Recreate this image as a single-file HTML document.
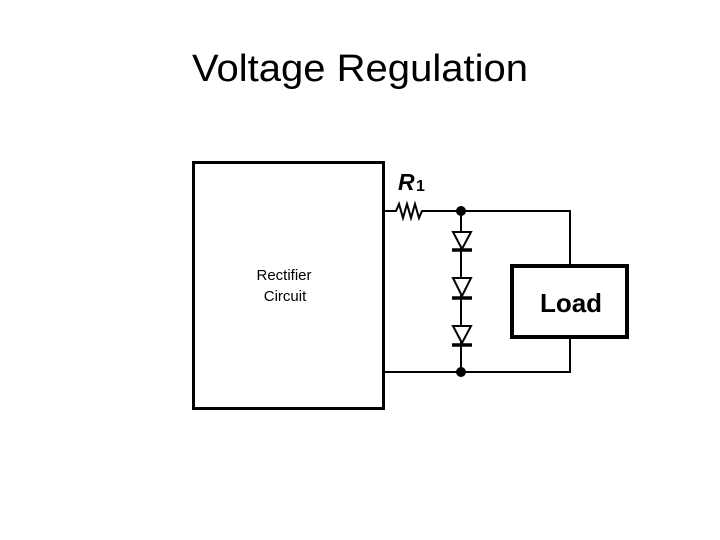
<!DOCTYPE html>
<html><head><style>
html,body{margin:0;padding:0;background:#fff;}
body{width:720px;height:540px;overflow:hidden;position:relative;}
</style></head><body>
<svg width="720" height="540" viewBox="0 0 720 540" xmlns="http://www.w3.org/2000/svg" style="position:absolute;left:0;top:0">
<text x="192" y="81" textLength="336" lengthAdjust="spacingAndGlyphs" font-family="Liberation Sans, sans-serif" font-size="38" fill="#000">Voltage Regulation</text>
<rect x="193.5" y="162.5" width="190" height="246" fill="none" stroke="#000" stroke-width="3"/>
<text x="284" y="280" text-anchor="middle" font-family="Liberation Sans, sans-serif" font-size="15">Rectifier</text>
<text x="285" y="301" text-anchor="middle" font-family="Liberation Sans, sans-serif" font-size="15">Circuit</text>
<text x="398" y="190" font-family="Liberation Sans, sans-serif" font-size="23" font-weight="bold" font-style="italic">R</text>
<text x="416" y="191" font-family="Liberation Sans, sans-serif" font-size="16" font-weight="bold">1</text>
<g stroke="#000" stroke-width="2" fill="none">
<polyline points="385,211 396,211 399,204 403,218 407,204 411,218 415,204 419,218 422,211 461,211 570,211 570,265"/>
<polyline points="385,372 570,372 570,337"/>
<line x1="461" y1="211" x2="461" y2="372"/>
<polygon points="453,232 471,232 462,249" fill="#fff"/>
<polygon points="453,278 471,278 462,296" fill="#fff"/>
<polygon points="453,326 471,326 462,343" fill="#fff"/>
</g>
<g stroke="#000" stroke-width="3.5">
<line x1="452" y1="250" x2="472" y2="250"/>
<line x1="452" y1="298" x2="472" y2="298"/>
<line x1="452" y1="345" x2="472" y2="345"/>
</g>
<circle cx="461" cy="211" r="5" fill="#000"/>
<circle cx="461" cy="372" r="5" fill="#000"/>
<rect x="512" y="266" width="115" height="71" fill="#fff" stroke="#000" stroke-width="4"/>
<text x="571" y="312" text-anchor="middle" font-family="Liberation Sans, sans-serif" font-size="26" font-weight="bold">Load</text>
</svg>
</body></html>
